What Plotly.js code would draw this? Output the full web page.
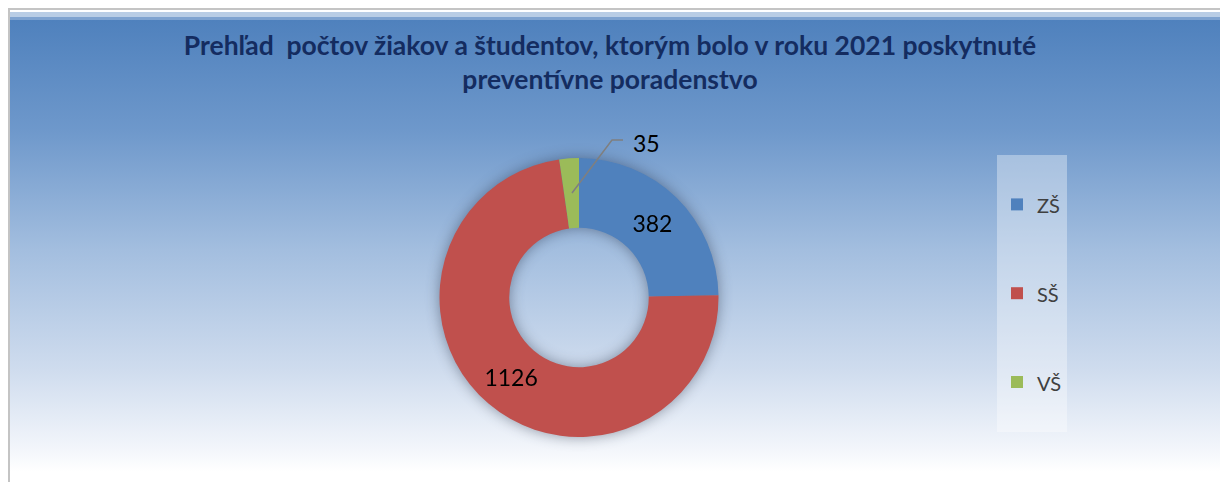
<!DOCTYPE html>
<html>
<head>
<meta charset="utf-8">
<script src="https://cdn.plot.ly/plotly-3.0.1.min.js"></script>
<style>
  html, body { margin: 0; padding: 0; background: #ffffff; }
  #wrap { position: relative; width: 1220px; height: 482px; overflow: hidden; background: #ffffff; }
  #bg {
    position: absolute; left: 8px; top: 8px; width: 1212px; height: 474px;
    border-top: 2px solid #c4c4c4; border-left: 2px solid #c4c4c4;
    background: linear-gradient(to bottom,
      #ffffff 0px, #ffffff 2px,
      #b9cde5 2px, #b9cde5 7px,
      #7fa3d0 7px, #7fa3d0 10px,
      #4f81bd 10px,
      #6e98cb 120px,
      #a3bedf 240px,
      #cfdcee 360px,
      #f3f6fb 440px,
      #ffffff 462px);
  }
  #chart { position: absolute; left: 0; top: 0; width: 1220px; height: 482px; }
  #chart .pielayer .trace { filter: drop-shadow(0px 0px 7px rgba(30,40,60,0.45)); }
</style>
</head>
<body>
<div id="wrap">
  <div id="bg"></div>
  <div id="chart"></div>
</div>
<script>
// ---- data ----
const categories = ["ZŠ", "SŠ", "VŠ"];
const values = [382, 1126, 35];
const colors = ["#4f81bd", "#c0504d", "#9bbb59"];
const titleLines = ["Prehľad\u00a0 počtov žiakov a študentov, ktorým bolo v roku 2021 poskytnuté", "preventívne poradenstvo"];

// legend labels padded with blank lines for the tall legend spacing
const legendLabels = categories.map(c => "\u00a0<br><span style='font-size:20px'>" + c + "</span><br>\u00a0");

const W = 1220, H = 482;
const cx = 579, cy = 297.5, R = 139.5;

const trace = {
  type: "pie",
  labels: legendLabels,
  values: values,
  hole: 0.5,
  sort: false,
  direction: "clockwise",
  rotation: 0,
  marker: { colors: colors, line: { width: 0 } },
  texttemplate: "%{value}",
  textposition: ["inside", "inside", "none"],
  insidetextorientation: "horizontal",
  textfont: { family: "Lato, sans-serif", size: 23, color: "#000000" },
  domain: { x: [(cx - R) / W, (cx + R) / W], y: [(H - cy - R) / H, (H - cy + R) / H] },
  hoverinfo: "value+percent",
  showlegend: true
};

const layout = {
  width: W, height: H,
  margin: { l: 0, r: 0, t: 0, b: 0 },
  paper_bgcolor: "rgba(0,0,0,0)",
  plot_bgcolor: "rgba(0,0,0,0)",
  title: {
    text: "<span style='font-size:26.5px'>" + titleLines[0] + "</span><br><span style='font-size:26.5px'>" + titleLines[1] + "</span>",
    font: { family: "Lato, sans-serif", size: 26, color: "#142c60", weight: 700 },
    x: 0.5, xanchor: "center", xref: "paper",
    y: (H - 55) / H, yanchor: "top", yref: "paper"
  },
  showlegend: true,
  legend: {
    x: 997 / W, xanchor: "left",
    y: (H - 155) / H, yanchor: "top",
    bgcolor: "rgba(255,255,255,0.35)",
    borderwidth: 0,
    font: { family: "Lato, sans-serif", size: 22, color: "#404040" },
    traceorder: "normal"
  },
  annotations: [{
    xref: "paper", yref: "paper",
    x: 631 / W, y: (H - 143) / H,
    xanchor: "left", yanchor: "middle",
    text: String(values[2]),
    showarrow: false,
    font: { family: "Lato, sans-serif", size: 23, color: "#000000" }
  }],
  shapes: [{
    type: "path", xref: "paper", yref: "paper",
    path: "M " + (572 / W) + "," + ((H - 193) / H) + " L " + (612 / W) + "," + ((H - 140) / H) + " L " + (623 / W) + "," + ((H - 140) / H),
    line: { color: "#7f7f7f", width: 1.5 }
  }]
};

Plotly.newPlot("chart", [trace], layout, { displayModeBar: false, staticPlot: true });
</script>
</body>
</html>
